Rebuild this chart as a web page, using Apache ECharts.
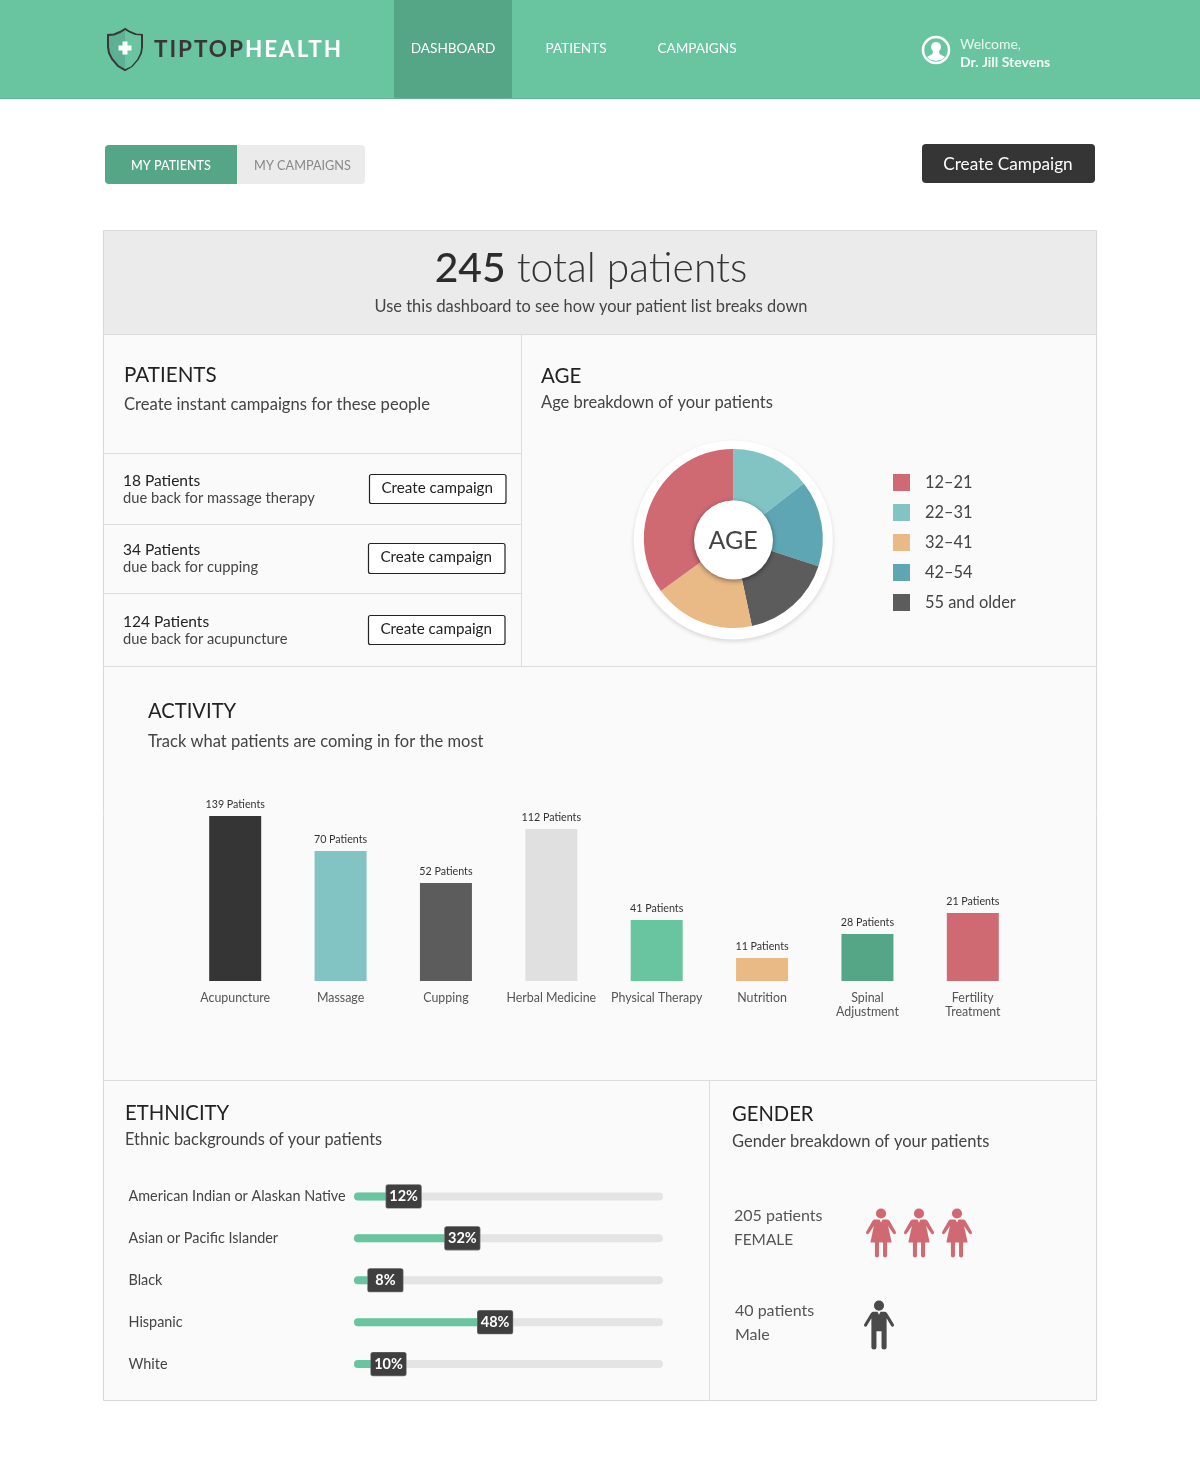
<!DOCTYPE html>
<html><head><meta charset="utf-8">
<style>
html,body{margin:0;padding:0;background:#fff}
#c{width:1200px;height:1461px;position:absolute;left:0;top:0}
#logo{position:absolute;left:154px;top:35px;font:700 22.5px/28px Lato,sans-serif;letter-spacing:1.95px;color:#3a3636;white-space:nowrap}
#logo b{font-weight:700;color:#fff}
</style>
<script src="https://cdn.jsdelivr.net/npm/echarts@6/dist/echarts.min.js"></script>
</head><body>
<div id="c"></div>
<div id="logo">TIPTOP<b>HEALTH</b></div>
<script>
// Age wheel: legend order, slice order (clockwise from 12 o'clock) and sizes
const ageLegend = ['12–21','22–31','32–41','42–54','55 and older'];
const ageSlices = ['22–31','42–54','55 and older','32–41','12–21'];
const ageValues = [52,56,60,66,126];
const ageColors = ['#82c4c4','#5fa6b5','#5c5c5c','#e9b986','#d06a72'];

// Activity: printed patient counts, and the bar levels as drawn (the drawn bars are not proportional to the printed counts)
const activityNames = ['Acupuncture','Massage','Cupping','Herbal Medicine','Physical Therapy','Nutrition','Spinal\nAdjustment','Fertility\nTreatment'];
const activityCounts = [139,70,52,112,41,11,28,21];
const activityLevels = [165,130,98,152,61,23,47,68];
const activityColors = ['#353535','#82c4c4','#5c5c5c','#e0e0e0','#69c5a0','#e9b986','#55a687','#d06a72'];

// Ethnicity: printed shares, and the fill levels as drawn
const ethnicityNames = ['American Indian or Alaskan Native','Asian or Pacific Islander','Black','Hispanic','White'];
const ethnicityShares = [12,32,8,48,10];
const ethnicityLevels = [10.4,29.4,4.5,40,5.5];

// Gender: icons drawn per row
const genderNames = ['FEMALE','Male'];
const genderIcons = [3,1];

const FONT = 'Lato, sans-serif';
const FEMALE = 'path://M15 0a5 5 0 1 1 0 10a5 5 0 1 1 0-10zM8.5 11L13.5 11L15 14L16.5 11L21.5 11Q22.5 11 23.5 12.5L29.7 23.5Q30 25 29 25.5Q28 26 27 25L22 17.5L25.5 34L21 34L21 47Q21 49 19 49Q17 49 17 47L17 34L13 34L13 47Q13 49 11 49Q9 49 9 47L9 34L4.5 34L8 17.5L3 25Q2 26 1 25.5Q0 25 .3 23.5L6.5 12.5Q7.5 11 8.5 11Z';
const MALE = 'path://M15 0a5 5 0 1 1 0 10a5 5 0 1 1 0-10zM9 11L13.5 11L15 14L16.5 11L21 11Q22 11 23 12.5L29.7 23.5Q30 25 29 25.5Q28 26 27 25L22.5 17.5L22.5 46Q22.5 48 20 48Q17.5 48 17.5 46L17.5 30L12.5 30L12.5 46Q12.5 48 10 48Q7.5 48 7.5 46L7.5 17.5L3 25Q2 26 1 25.5Q0 25 .3 23.5L7 12.5Q8 11 9 11Z';

const g = [];
const rect = (x,y,w,h,fill,o={}) => g.push({type:'rect',z:o.z||0,silent:true,shape:{x,y,width:w,height:h,r:o.r||0},style:{fill,stroke:o.stroke||null,lineWidth:o.lw||0}});
const line = (x1,y1,x2,y2,c='#dcdcdc') => g.push({type:'line',z:1,silent:true,shape:{x1,y1,x2,y2},style:{stroke:c,lineWidth:1}});
const poly = (points,style,z=3) => g.push({type:'polygon',z,silent:true,shape:{points},style});
const text = (x,y,t,size,fill,o={}) => g.push({type:'text',z:o.z||5,silent:true,x,y:y+.8,style:{text:t,fill,font:`${o.w||400} ${size}px ${FONT}`,textAlign:o.a||'left',textVerticalAlign:'middle',rich:o.rich}});

// nav
rect(0,0,1200,99,'#69c5a0');
rect(394,0,118,99,'#55a687');
line(0,98.5,1200,98.5,'#5cb594');
text(453,48,'DASHBOARD',13.6,'#fff',{a:'center'});
text(576,48,'PATIENTS',13.6,'#fff',{a:'center'});
text(697,48,'CAMPAIGNS',13.6,'#fff',{a:'center'});
text(960,43.5,'Welcome,',14,'#e8f7f0');
text(960,61.5,'Dr. Jill Stevens',14,'#f4fbf8',{w:700});
// logo shield
const shieldL = [[125,29],[120,32],[114,34.5],[108,35],[108,47],[109,53],[112,59],[118,66],[125,70]];
const shieldR = shieldL.slice().reverse().map(p=>[250-p[0],p[1]]);
poly(shieldL.concat(shieldR),{fill:'#5db094',stroke:'#3a3636',lineWidth:2});
poly([[125,30.2]].concat(shieldR.slice(-8,-1).reverse().map(p=>[p[0]-1,p[1]+.5])).concat([[125,69]]),{fill:'#69c5a0'});
poly([[122.5,41.5],[127.5,41.5],[127.5,45.5],[131.5,45.5],[131.5,50.5],[127.5,50.5],[127.5,54.5],[122.5,54.5],[122.5,50.5],[118.5,50.5],[118.5,45.5],[122.5,45.5]],{fill:'#fff'},4);
// user icon
g.push({type:'circle',z:3,silent:true,shape:{cx:936,cy:50,r:13},style:{fill:'none',stroke:'#fff',lineWidth:2.5}});
g.push({type:'circle',z:3,silent:true,shape:{cx:936,cy:47,r:5},style:{fill:'#fff'}});
poly([[933,51],[939,51],[939.5,54],[945,57],[942,59.5],[936,61],[930,59.5],[927,57],[932.5,54]],{fill:'#fff'});

// tabs and action
g.push({type:'rect',z:1,silent:true,shape:{x:105,y:145,width:132,height:39,r:[4,0,0,4]},style:{fill:'#55a687'}});
g.push({type:'rect',z:1,silent:true,shape:{x:237,y:145,width:128,height:39,r:[0,4,4,0]},style:{fill:'#ebebeb'}});
text(171,165,'MY PATIENTS',12.6,'#fff',{a:'center',w:500});
text(302.5,165,'MY CAMPAIGNS',12.7,'#888',{a:'center'});
rect(922,144,173,39,'#353535',{r:4});
text(1008,163.5,'Create Campaign',17.2,'#fff',{a:'center'});

// panels
rect(103.5,230.5,993,1170,'#fafafa',{stroke:'#d8d8d8',lw:1});
rect(104,231,992,103,'#ebebeb');
line(103,334.5,1097,334.5); line(521.5,334,521.5,666); line(103,666.5,1097,666.5);
line(103,1080.5,1097,1080.5); line(709.5,1080,709.5,1401);
line(103,453.5,521,453.5); line(103,524.5,521,524.5); line(103,593.5,521,593.5);

text(591,268,'{a|245} total patients',40.8,'#333',{a:'center',w:300,rich:{a:{font:`500 40.8px ${FONT}`,fill:'#2c2c2c'}}});
text(591,305.5,'Use this dashboard to see how your patient list breaks down',16.4,'#444',{a:'center'});

text(124,375,'PATIENTS',20.6,'#222');
text(124,403.5,'Create instant campaigns for these people',16.6,'#444');
const rows = [[480,497,'18 Patients','due back for massage therapy',369,474,136.5,29],
              [549,566,'34 Patients','due back for cupping',368,543,136.5,30],
              [621,638,'124 Patients','due back for acupuncture',368,615,136.5,29]];
rows.forEach(r=>{
  text(123,r[0],r[2],15.5,'#222');
  text(123,r[1],r[3],14.7,'#444');
  rect(r[4]+.5,r[5]+.5,r[6],r[7],'#fff',{stroke:'#222',lw:1.2,r:2,z:2});
  text(r[4]+r[6]/2,r[5]+r[7]/2-1.3,'Create campaign',15.2,'#222',{a:'center'});
});

text(541,376,'AGE',20.5,'#222');
text(541,402,'Age breakdown of your patients',16.5,'#444');
g.push({type:'circle',z:1,silent:true,shape:{cx:733.3,cy:540,r:99.5},style:{fill:'#fff',shadowBlur:4,shadowColor:'rgba(0,0,0,.14)',shadowOffsetY:2}});
g.push({type:'circle',z:10,silent:true,shape:{cx:733.5,cy:540,r:39.5},style:{fill:'#fff',shadowBlur:5,shadowColor:'rgba(0,0,0,.45)',shadowOffsetY:1.5}});
text(733,540,'AGE',25,'#444',{a:'center',z:11});

text(148,710.5,'ACTIVITY',20.2,'#222');
text(148,740.5,'Track what patients are coming in for the most',16.5,'#444');
text(125,1112.5,'ETHNICITY',20.3,'#222');
text(125,1138.5,'Ethnic backgrounds of your patients',16.3,'#444');
text(732,1114,'GENDER',20.2,'#222');
text(732,1140.5,'Gender breakdown of your patients',16.5,'#444');
text(734,1215,'205 patients',16,'#555');
text(734,1239,genderNames[0],15.4,'#555');
text(735,1310,'40 patients',16,'#555');
text(735,1334,genderNames[1],16,'#555');

const option = {
  animation:false,
  textStyle:{fontFamily:FONT},
  graphic:{elements:g},
  legend:{
    data:ageLegend,orient:'vertical',left:893,top:474,padding:0,itemWidth:17,itemHeight:17,itemGap:13,
    selectedMode:false,icon:'rect',
    textStyle:{fontFamily:FONT,fontSize:16.4,color:'#444',padding:[1,0,0,10]}
  },
  grid:[
    {left:182.5,top:816,width:843,height:165},
    {left:354,top:1175.5,width:309,height:209.5},
    {left:862,top:1187,width:114,height:184}
  ],
  xAxis:[
    {gridIndex:0,type:'category',data:activityNames,axisLine:{show:false},axisTick:{show:false},
     axisLabel:{interval:0,margin:10,fontSize:12.4,lineHeight:14,color:'#555',fontFamily:FONT}},
    {gridIndex:1,type:'value',min:0,max:100,show:false},
    {gridIndex:2,type:'value',min:0,max:3,show:false}
  ],
  yAxis:[
    {gridIndex:0,type:'value',min:0,max:165,show:false},
    {gridIndex:1,type:'category',inverse:true,data:ethnicityNames,axisLine:{show:false},axisTick:{show:false},
     axisLabel:{margin:225.5,align:'left',fontSize:14.4,color:'#444',fontFamily:FONT}},
    {gridIndex:2,type:'category',inverse:true,data:genderNames,show:false}
  ],
  series:[
    {type:'pie',z:5,center:[733.3,538.5],radius:[38,89.5],startAngle:90,clockwise:true,silent:true,
     label:{show:false},labelLine:{show:false},
     data:ageSlices.map((n,i)=>({name:n,value:ageValues[i],itemStyle:{color:ageColors[i]}}))},
    {type:'bar',xAxisIndex:0,yAxisIndex:0,barWidth:52,silent:true,
     data:activityLevels.map((v,i)=>({value:v,itemStyle:{color:activityColors[i]}})),
     label:{show:true,position:'top',distance:5.5,fontSize:10.7,color:'#333',fontFamily:FONT,
       formatter:p=>activityCounts[p.dataIndex]+' Patients'}},
    {type:'bar',xAxisIndex:1,yAxisIndex:1,barWidth:8,silent:true,showBackground:true,
     backgroundStyle:{color:'#e4e4e4',borderRadius:4},
     itemStyle:{color:'#69c5a0',borderRadius:[4,0,0,4]},
     data:ethnicityLevels,
     label:{show:true,position:'right',distance:0,offset:[17.5,0],formatter:p=>ethnicityShares[p.dataIndex]+'%',
       color:'#fff',fontSize:14.5,fontWeight:700,fontFamily:FONT,backgroundColor:'#3f3f3f',borderColor:'#777',borderWidth:.6,
       borderRadius:2,width:35,height:23,lineHeight:23,align:'center',verticalAlign:'middle'}},
    {type:'pictorialBar',xAxisIndex:2,yAxisIndex:2,silent:true,symbolRepeat:true,symbolSize:[30,49],symbolMargin:'4!',
     symbolPosition:'start',
     data:[{value:genderIcons[0],symbol:FEMALE,itemStyle:{color:'#d06a72'}},
           {value:genderIcons[1],symbol:MALE,symbolOffset:[-2,0],itemStyle:{color:'#4a4a4a'}}]}
  ]
};
echarts.init(document.getElementById('c')).setOption(option);
</script>
</body></html>
